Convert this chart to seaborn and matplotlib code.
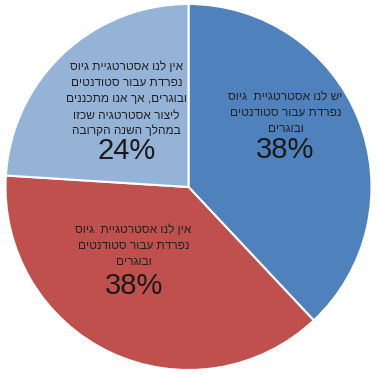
import matplotlib
matplotlib.use("Agg")
import matplotlib.pyplot as plt
import seaborn as sns

sns.set_style("white")
plt.rcParams['font.family'] = ['Liberation Sans', 'DejaVu Sans']

# data
labels = [
    "יש לנו אסטרטגיית  גיוס\nנפרדת עבור סטודנטים\nובוגרים",
    "אין לנו אסטרטגיית  גיוס\nנפרדת עבור סטודנטים\nובוגרים",
    "אין לנו אסטרטגיית גיוס\nנפרדת עבור סטודנטים\nובוגרים, אך אנו מתכננים\nליצור אסטרטגיה שכזו\nבמהלך השנה הקרובה",
]
values = [38, 38, 24]
colors = ["#4F81BD", "#C0504D", "#95B3D7"]

# label positions (x, y of text block, y of percent)
text_pos = [(0.53, 0.405, 0.20), (-0.30, -0.32, -0.54), (-0.34, 0.48, 0.195)]


def rtl(s):
    # matplotlib has no bidi support, so flip each line for display
    return "\n".join(line[::-1] for line in s.split("\n"))


fig = plt.figure(figsize=(3.78, 3.74), dpi=100)
ax = fig.add_axes([5 / 378, 4 / 374, 367 / 378, 366 / 374])
wedges, _ = ax.pie(values, colors=colors, startangle=90, counterclock=False,
                   wedgeprops=dict(edgecolor="white", linewidth=1.5))
ax.set_aspect("equal")
ax.set_xlim(-1.0, 1.0)
ax.set_ylim(-1.0, 1.0)
ax.axis("off")

for lab, v, (x, y, py) in zip(labels, values, text_pos):
    ax.text(x, y, rtl(lab), ha="center", va="center", multialignment="center",
            fontsize=8.6, color="#222222", linespacing=1.45)
    ax.text(x, py, f"{v}%", ha="center", va="center", fontsize=21, color="#1a1a1a")

fig.savefig("out.png", dpi=100)
